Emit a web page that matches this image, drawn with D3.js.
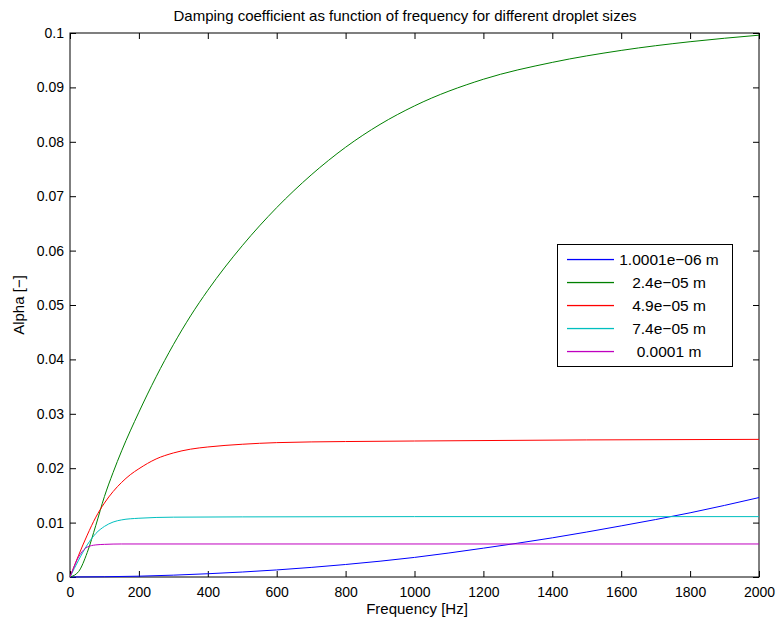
<!DOCTYPE html>
<html>
<head>
<meta charset="utf-8">
<script src="https://cdn.jsdelivr.net/npm/d3@7"></script>
<style>
  body { margin: 0; background: #fff; }
  text { font-family: "Liberation Sans", Arial, Helvetica, sans-serif; fill: #000; }
</style>
</head>
<body>
<svg id="chart"></svg>
<script>
const width = 776;
const height = 621;
const margin = { top: 33, right: 17, bottom: 44, left: 70 };

// series (frequency in Hz, alpha)
const freqBlue = [0, 200, 400, 600, 800, 1000, 1200, 1400, 1600, 1800, 2000];
const alphaBlue = [0, 0.00015, 0.0006, 0.0013, 0.0023, 0.0036, 0.0053, 0.0072, 0.0094, 0.0118, 0.0146];

const freqGreen = [0, 25, 50, 75, 100, 125, 150, 200, 250, 300, 350, 400, 500, 600, 700, 800, 900, 1000, 1200, 1400, 1600, 1800, 2000];
const alphaGreen = [0, 0.001, 0.0045, 0.0095, 0.0148, 0.0192, 0.0232, 0.0303, 0.0368, 0.0427, 0.0480, 0.0527, 0.0609, 0.0679, 0.0739, 0.0790, 0.0832, 0.0866, 0.0915, 0.0946, 0.0968, 0.0984, 0.0996];

const freqRed = [0, 25, 50, 75, 100, 125, 150, 175, 200, 250, 300, 350, 400, 500, 600, 800, 1000, 1500, 2000];
const alphaRed = [0, 0.0040, 0.0077, 0.0110, 0.0136, 0.0157, 0.0174, 0.0188, 0.0199, 0.0217, 0.0228, 0.0235, 0.0239, 0.0244, 0.0247, 0.0249, 0.0250, 0.0252, 0.0253];

const freqCyan = [0, 25, 50, 75, 100, 125, 150, 200, 300, 500, 1000, 2000];
const alphaCyan = [0, 0.0031, 0.0059, 0.0080, 0.0093, 0.0101, 0.0105, 0.0108, 0.0110, 0.01105, 0.0111, 0.0111];

const freqMagenta = [0, 10, 20, 30, 40, 50, 75, 100, 150, 2000];
const alphaMagenta = [0, 0.0016, 0.0031, 0.0042, 0.0050, 0.0055, 0.0059, 0.0060, 0.00607, 0.00607];

const seriesNames = ['1.0001e\u221206 m', '2.4e\u221205 m', '4.9e\u221205 m', '7.4e\u221205 m', '0.0001 m'];
const seriesColors = ['#0000ff', '#008000', '#ff0000', '#00bfbf', '#bf00bf'];

const xTicks = [0, 200, 400, 600, 800, 1000, 1200, 1400, 1600, 1800, 2000];
const yTicks = [0, 0.01, 0.02, 0.03, 0.04, 0.05, 0.06, 0.07, 0.08, 0.09, 0.1];

const series = [
    [freqBlue, alphaBlue],
    [freqGreen, alphaGreen],
    [freqRed, alphaRed],
    [freqCyan, alphaCyan],
    [freqMagenta, alphaMagenta]
].map(([f, a], i) => ({
    name: seriesNames[i],
    color: seriesColors[i],
    points: f.map((x, j) => ({ f: x, a: a[j] }))
}));

const svg = d3.select('#chart')
    .attr('width', width)
    .attr('height', height);

const xScale = d3.scaleLinear()
    .domain([0, 2000])
    .range([margin.left, width - margin.right]);

const yScale = d3.scaleLinear()
    .domain([0, 0.1])
    .range([height - margin.bottom, margin.top]);

const tickLen = 6;
const plotW = width - margin.left - margin.right;
const plotH = height - margin.top - margin.bottom;

// bottom axis, ticks inward
svg.append('g')
    .attr('transform', `translate(0,${height - margin.bottom})`)
    .call(d3.axisBottom(xScale).tickValues(xTicks).tickSizeInner(-tickLen).tickSizeOuter(0).tickPadding(10).tickFormat(d3.format('d')))
    .call(g => g.selectAll('text').style('font-size', '14px'));

// top axis ticks
svg.append('g')
    .attr('transform', `translate(0,${margin.top})`)
    .call(d3.axisTop(xScale).tickValues(xTicks).tickSizeInner(-tickLen).tickSizeOuter(0).tickFormat(''));

// left axis
svg.append('g')
    .attr('transform', `translate(${margin.left},0)`)
    .call(d3.axisLeft(yScale).tickValues(yTicks).tickSizeInner(-tickLen).tickSizeOuter(0).tickPadding(6).tickFormat(d => d === 0 ? '0' : d3.format('.2~f')(d)))
    .call(g => g.selectAll('text').style('font-size', '14px'));

// right axis ticks
svg.append('g')
    .attr('transform', `translate(${width - margin.right},0)`)
    .call(d3.axisRight(yScale).tickValues(yTicks).tickSizeInner(-tickLen).tickSizeOuter(0).tickFormat(''));

svg.selectAll('.domain').remove();
svg.selectAll('.tick line').attr('stroke', '#000');

// box
svg.append('rect')
    .attr('x', margin.left)
    .attr('y', margin.top)
    .attr('width', plotW)
    .attr('height', plotH)
    .attr('fill', 'none')
    .attr('stroke', '#000')
    .attr('stroke-width', 1);

const line = d3.line()
    .x(d => xScale(d.f))
    .y(d => yScale(d.a))
    .curve(d3.curveMonotoneX);

svg.append('g')
    .selectAll('path')
    .data(series)
    .enter()
    .append('path')
    .attr('d', d => line(d.points))
    .attr('fill', 'none')
    .attr('stroke', d => d.color)
    .attr('stroke-width', 1);

// title and labels
svg.append('text')
    .attr('x', 405)
    .attr('y', 21)
    .attr('text-anchor', 'middle')
    .style('font-size', '15px')
    .text('Damping coefficient as function of frequency for different droplet sizes');

svg.append('text')
    .attr('x', 417)
    .attr('y', 614)
    .attr('text-anchor', 'middle')
    .style('font-size', '15px')
    .text('Frequency [Hz]');

svg.append('text')
    .attr('transform', `translate(24,${(margin.top + height - margin.bottom) / 2}) rotate(-90)`)
    .attr('text-anchor', 'middle')
    .style('font-size', '15px')
    .text('Alpha [\u2212]');

// legend
const legend = svg.append('g');
legend.append('rect')
    .attr('x', 557.5)
    .attr('y', 244.5)
    .attr('width', 175)
    .attr('height', 122)
    .attr('fill', '#fff')
    .attr('stroke', '#000');

const rows = legend.selectAll('g.row')
    .data(series)
    .enter()
    .append('g')
    .attr('transform', (d, i) => `translate(0,${Math.round(259 + i * 22.9) + 0.5})`);

rows.append('rect')
    .attr('x', 567)
    .attr('y', -0.6)
    .attr('width', 47)
    .attr('height', 1.3)
    .attr('fill', d => d.color);

rows.append('text')
    .attr('x', 669)
    .attr('y', 5.5)
    .attr('text-anchor', 'middle')
    .style('font-size', '15.5px')
    .text(d => d.name);
</script>
</body>
</html>
